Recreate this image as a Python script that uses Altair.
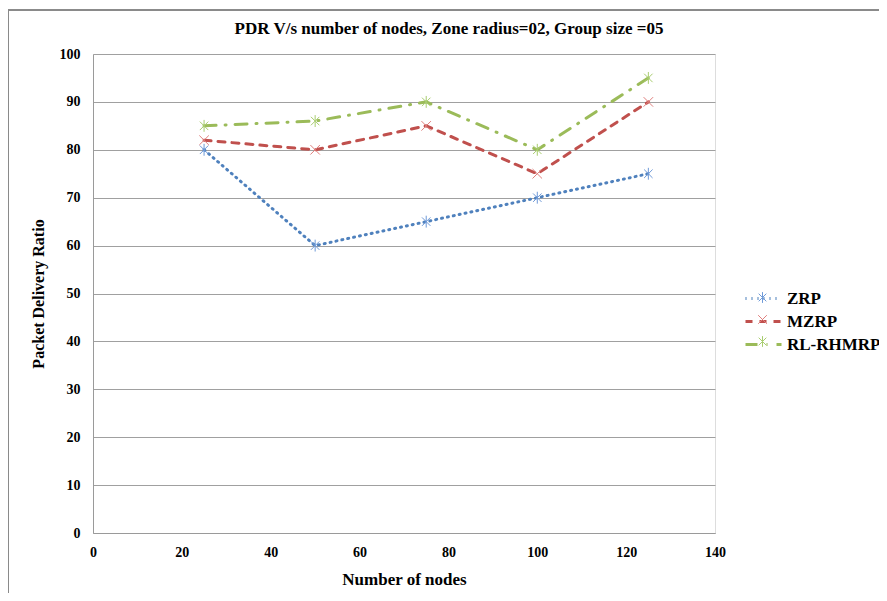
import altair as alt
import pandas as pd

nodes = [25, 50, 75, 100, 125]
zrp = [80, 60, 65, 70, 75]
mzrp = [82, 80, 85, 75, 90]
rlrhmrp = [85, 86, 90, 80, 95]
series = ["ZRP", "MZRP", "RL-RHMRP"]
line_colors = ["#4F81BD", "#C0504D", "#9BBB59"]
marker_colors = ["#6F9AD8", "#E07F7D", "#A9CD70"]

rows = []
for s, vals in zip(series, [zrp, mzrp, rlrhmrp]):
    for n, v in zip(nodes, vals):
        rows.append({"nodes": n, "pdr": v, "series": s, "marker": s})
df = pd.DataFrame(rows)

FONT = "Liberation Serif"
AST = "M-0.32,-0.32L0.32,0.32M-0.32,0.32L0.32,-0.32M0,-0.45L0,0.45"
CROSS = "M-0.36,-0.36L0.36,0.36M-0.36,0.36L0.36,-0.36"

legend_common = dict(orient="none", legendX=657, legendY=231, title=None,
                     symbolSize=576, labelFont=FONT, labelFontSize=17,
                     labelFontWeight="bold", rowPadding=1, labelOffset=10,
                     padding=0)

line_legend = alt.Legend(symbolType="M-1.5,0L1.5,0", symbolStrokeWidth=3,
                         labelColor="black", **legend_common)
marker_legend = alt.Legend(symbolStrokeWidth=1, labelExpr="''",
                           **legend_common)

x_enc = alt.X("nodes:Q", scale=alt.Scale(domain=[0, 140], nice=False),
              axis=alt.Axis(values=list(range(0, 141, 20)), grid=False, ticks=False,
                            labelFlush=False,
                            domainColor="#9a9a9a", labelFont=FONT, labelFontSize=14,
                            labelFontWeight="bold", labelColor="black", labelPadding=12,
                            title="Number of nodes", titleFont=FONT, titleFontSize=17,
                            titleFontWeight="bold", titleColor="black", titlePadding=12))
y_enc = alt.Y("pdr:Q", scale=alt.Scale(domain=[0, 100], nice=False),
              axis=alt.Axis(values=list(range(0, 101, 10)), grid=True, gridColor="#a0a0a0",
                            ticks=False, domainColor="#9a9a9a", labelFont=FONT,
                            labelFontSize=14, labelFontWeight="bold", labelColor="black",
                            labelPadding=13, title="Packet Delivery Ratio", titleFont=FONT,
                            titleFontSize=16, titleFontWeight="bold", titleColor="black",
                            titlePadding=13))

lines = alt.Chart(df).mark_line(strokeWidth=3, strokeCap="round").encode(
    x=x_enc, y=y_enc,
    color=alt.Color("series:N", scale=alt.Scale(domain=series, range=line_colors),
                    legend=line_legend),
    strokeDash=alt.StrokeDash("series:N",
                              scale=alt.Scale(domain=series,
                                              range=[[1, 5], [7, 7], [12, 9, 1, 9]]),
                              legend=line_legend),
)

points = alt.Chart(df).mark_point(filled=False, strokeWidth=1, size=700, opacity=1).encode(
    x="nodes:Q", y="pdr:Q",
    shape=alt.Shape("marker:N", scale=alt.Scale(domain=series, range=[AST, CROSS, AST]),
                    legend=marker_legend),
    color=alt.Color("marker:N", scale=alt.Scale(domain=series, range=marker_colors),
                    legend=marker_legend),
)

frame_top = alt.Chart(df).mark_rule(color="#8a8a8a", strokeWidth=1).encode(
    x=alt.value(-85), x2=alt.value(786), y=alt.value(-44))
frame_left = alt.Chart(df).mark_rule(color="#8a8a8a", strokeWidth=1).encode(
    x=alt.value(-85), y=alt.value(-44), y2=alt.value(547))

chart = alt.layer(frame_top, frame_left, lines, points).resolve_scale(
    color="independent", shape="independent", strokeDash="independent"
).resolve_legend(
    color="independent", shape="independent", strokeDash="independent"
).properties(
    width=622, height=479,
    autosize=alt.AutoSizeParams(type="none"),
    padding={"left": 85, "top": 46, "right": 164, "bottom": 60},
    title=alt.TitleParams("PDR V/s number of nodes, Zone radius=02, Group size =05",
                          font=FONT, fontSize=17, fontWeight="bold", color="black",
                          anchor="middle", frame="group", dx=45, dy=48, offset=20),
).configure_view(stroke=None).configure(background="white")

chart.save("out.html", embed_options={"renderer": "svg", "actions": False})
